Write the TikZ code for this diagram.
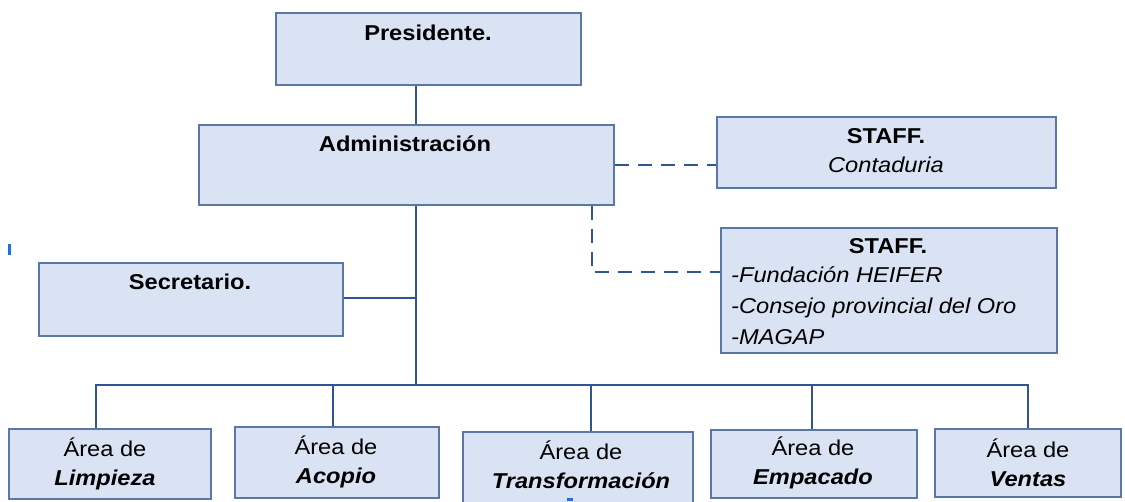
\documentclass[tikz,border=0pt]{standalone}
\usepackage{fontspec}
\setmainfont{Liberation Sans}[FakeStretch=1.1]
\definecolor{boxfill}{HTML}{DAE3F3}
\definecolor{boxdraw}{HTML}{5B77A6}
\definecolor{linec}{HTML}{2F5597}
\definecolor{tickc}{HTML}{1F6FE0}
\tikzset{
  orgbox/.style={draw=boxdraw, fill=boxfill, line width=1.9pt, rectangle, inner sep=0pt, anchor=north west},
  orgline/.style={draw=linec, line width=2.9pt},
  staffline/.style={draw=linec, line width=2.9pt, dash pattern=on 14pt off 9pt},
  txt/.style={font=\fontsize{21.5}{29}\selectfont, align=center, inner sep=0pt, text=black},
  ltxt/.style={font=\fontsize{21.5}{31}\selectfont, align=left, inner sep=0pt, text=black, anchor=north west},
}
\begin{document}
\begin{tikzpicture}[x=1pt,y=-1pt]
\useasboundingbox (0,0) rectangle (1125,501);
\fill[white] (0,0) rectangle (1125,501);

% boxes
\node[orgbox, minimum width=305pt, minimum height=72pt] (pres) at (275,12) {};
\node[orgbox, minimum width=415pt, minimum height=80pt] (adm) at (198,124) {};
\node[orgbox, minimum width=339pt, minimum height=71pt] (stA) at (716,116) {};
\node[orgbox, minimum width=336pt, minimum height=125pt] (stB) at (720,227) {};
\node[orgbox, minimum width=304pt, minimum height=73pt] (sec) at (38,262) {};
\node[orgbox, minimum width=202pt, minimum height=70pt] (limp) at (8,428) {};
\node[orgbox, minimum width=204pt, minimum height=71pt] (acop) at (234,426) {};
\node[orgbox, minimum width=230pt, minimum height=72pt] (trans) at (462,431) {};
\node[orgbox, minimum width=206pt, minimum height=68pt] (emp) at (710,429) {};
\node[orgbox, minimum width=186pt, minimum height=68pt] (vent) at (934,428) {};

% texts
\node[txt] (presT) at (428,33) {\bfseries Presidente.};
\node[txt] (admT) at (405,144) {\bfseries Administración};
\node[txt] (stAT) at (886,151) {\bfseries STAFF.\\ \itshape Contaduria};
\node[txt] (stBT) at (888,246) {\bfseries STAFF.};
\node[ltxt] (stBL) at (731,266) {\itshape -Fundación HEIFER\\ \itshape -Consejo provincial del Oro\\ \itshape -MAGAP};
\node[txt] (secT) at (190,282) {\bfseries Secretario.};
\node[txt] (limpT) at (105,464) {Área de\\ \bfseries\itshape Limpieza};
\node[txt] (acopT) at (336,462) {Área de\\ \bfseries\itshape Acopio};
\node[txt] (transT) at (581,465) {Área de\\ \bfseries\itshape Transformación};
\node[txt] (empT) at (813,463) {Área de\\ \bfseries\itshape Empacado};
\node[txt] (ventT) at (1028,463) {Área de\\ \bfseries\itshape Ventas};

% connector coordinates
\coordinate (trunk) at (416,385);
\coordinate (d1) at (96,385);
\coordinate (d2) at (333,385);
\coordinate (d3) at (591,385);
\coordinate (d4) at (812,385);
\coordinate (d5) at (1028,385);
\coordinate (dashx) at (592,272);

% solid connectors
\draw[orgline] (trunk |- pres.south) -- (trunk |- adm.north);
\draw[orgline] (trunk |- adm.south) -- (trunk);
\draw[orgline] ([yshift=1.5pt]sec.east) -- ([yshift=1.5pt]sec.east -| trunk);
\draw[orgline, line cap=rect] (d1) -- (d5);
\draw[orgline] (d1) -- (d1 |- limp.north);
\draw[orgline] (d2) -- (d2 |- acop.north);
\draw[orgline] (d3) -- (d3 |- trans.north);
\draw[orgline] (d4) -- (d4 |- emp.north);
\draw[orgline] (d5) -- (d5 |- vent.north);

% dashed staff connectors
\draw[staffline] (adm.east) -- (adm.east -| stA.west);
\draw[staffline] (dashx |- adm.south) -- (dashx) -- (dashx -| stB.west);

% small marks
\fill[tickc] (8,244) rectangle (10.5,255);
\fill[tickc] (567,498) rectangle (573,501);
\end{tikzpicture}
\end{document}
